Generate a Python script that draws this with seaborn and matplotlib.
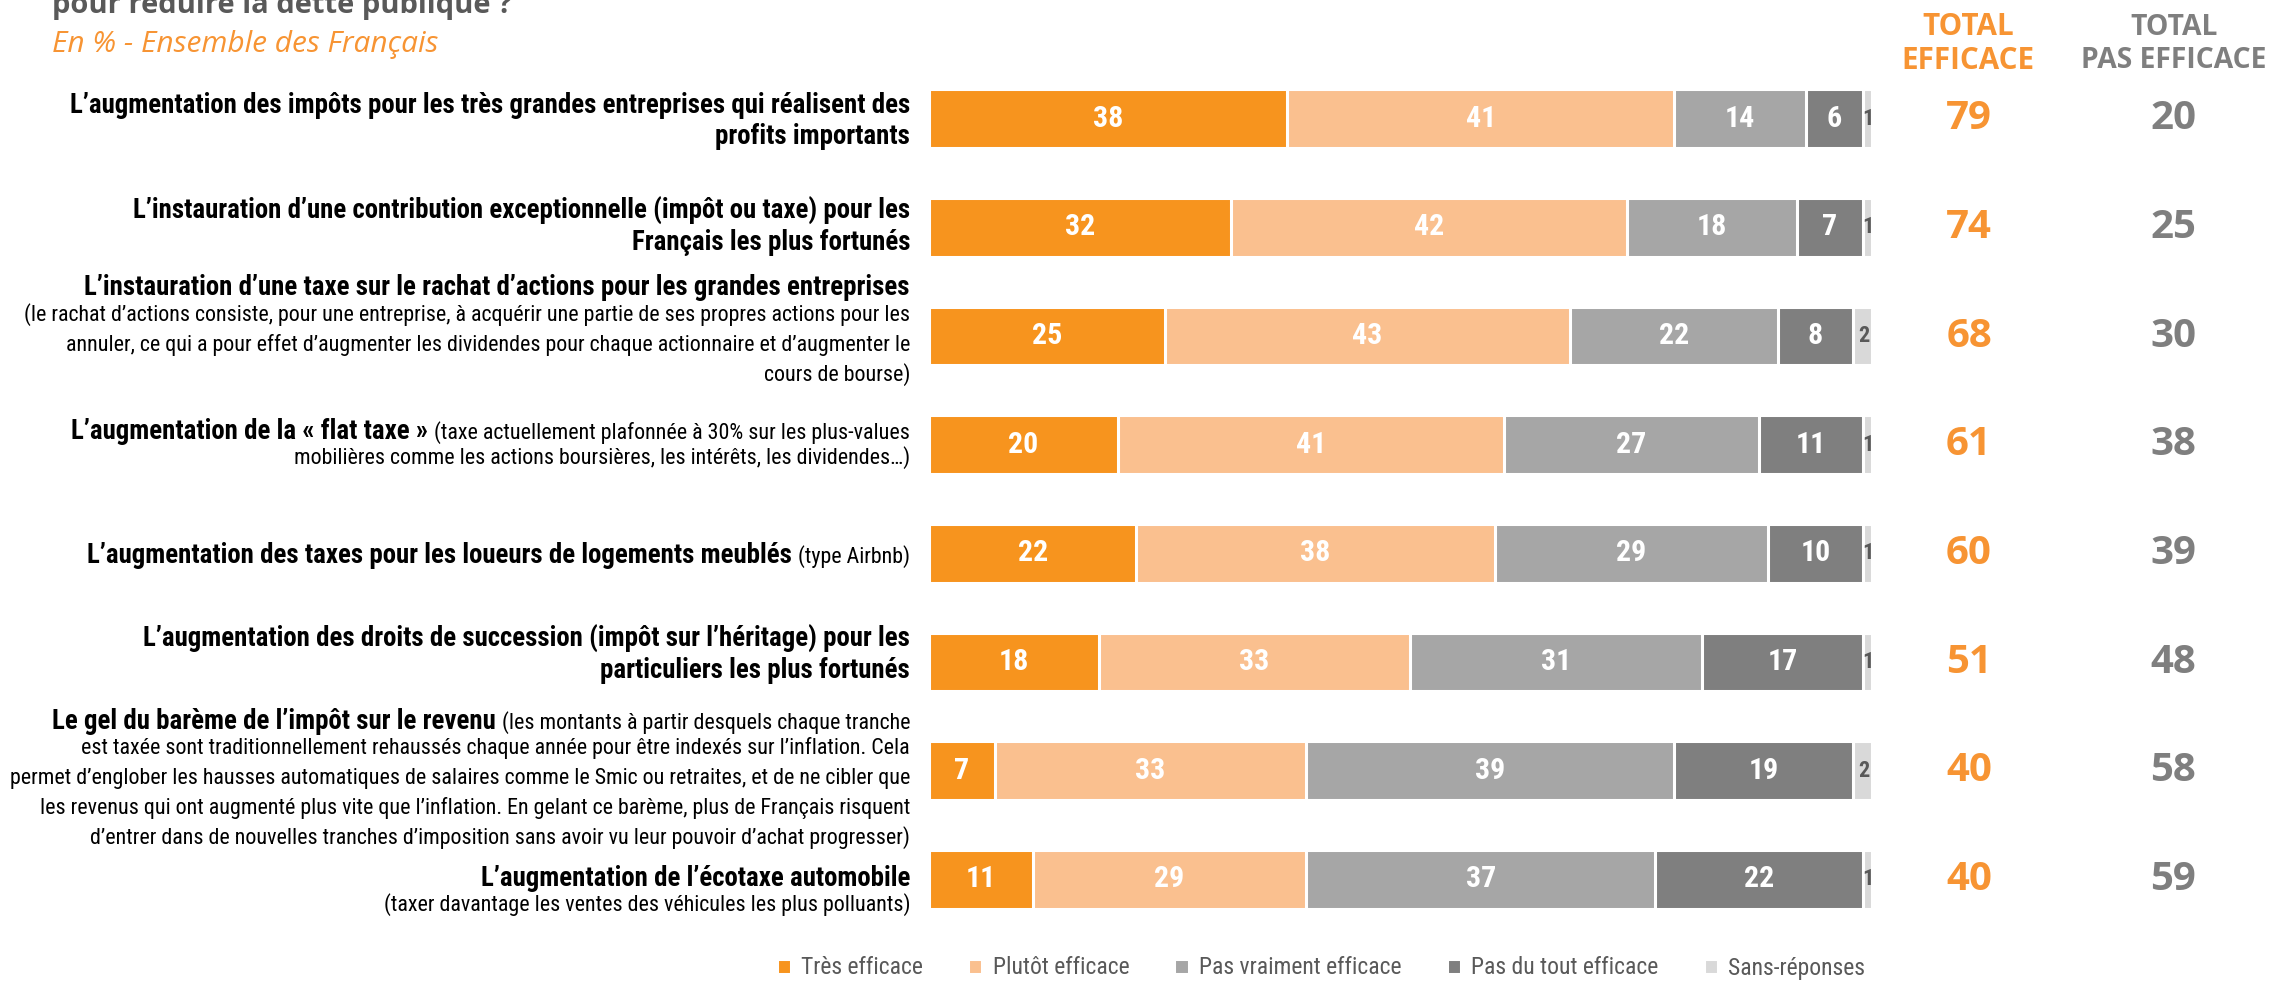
import matplotlib
matplotlib.use("Agg")
import matplotlib.pyplot as plt
import seaborn as sns
import numpy as np
import pandas as pd
from matplotlib import font_manager as fm

# ---------------- data ----------------
categories = ["impots_grandes_entreprises", "contribution_fortunes", "rachat_actions",
              "flat_taxe", "loueurs_meubles", "droits_succession", "gel_bareme", "ecotaxe"]
tres_efficace = [38, 32, 25, 20, 22, 18, 7, 11]
plutot_efficace = [41, 42, 43, 41, 38, 33, 33, 29]
pas_vraiment = [14, 18, 22, 27, 29, 31, 39, 37]
pas_du_tout = [6, 7, 8, 11, 10, 17, 19, 22]
sans_reponse = [1, 1, 2, 1, 1, 1, 2, 1]
total_efficace = [79, 74, 68, 61, 60, 51, 40, 40]
total_pas_efficace = [20, 25, 30, 38, 39, 48, 58, 59]
series_names = ["Très efficace", "Plutôt efficace", "Pas vraiment efficace",
                "Pas du tout efficace", "Sans-réponses"]

row_labels = [
    [[("L’augmentation des impôts pour les très grandes entreprises qui réalisent des", True)],
     [("profits importants", True)]],
    [[("L’instauration d’une contribution exceptionnelle (impôt ou taxe) pour les", True)],
     [("Français les plus fortunés", True)]],
    [[("L’instauration d’une taxe sur le rachat d’actions pour les grandes entreprises", True)],
     [("(le rachat d’actions consiste, pour une entreprise, à acquérir une partie de ses propres actions pour les", False)],
     [("annuler, ce qui a pour effet d’augmenter les dividendes pour chaque actionnaire et d’augmenter le", False)],
     [("cours de bourse)", False)]],
    [[("L’augmentation de la « flat taxe »", True), ("(taxe actuellement plafonnée à 30% sur les plus-values", False)],
     [("mobilières comme les actions boursières, les intérêts, les dividendes…)", False)]],
    [[("L’augmentation des taxes pour les loueurs de logements meublés", True), ("(type Airbnb)", False)]],
    [[("L’augmentation des droits de succession (impôt sur l’héritage) pour les", True)],
     [("particuliers les plus fortunés", True)]],
    [[("Le gel du barème de l’impôt sur le revenu", True), ("(les montants à partir desquels chaque tranche", False)],
     [("est taxée sont traditionnellement rehaussés chaque année pour être indexés sur l’inflation. Cela", False)],
     [("permet d’englober les hausses automatiques de salaires comme le Smic ou retraites, et de ne cibler que", False)],
     [("les revenus qui ont augmenté plus vite que l’inflation. En gelant ce barème, plus de Français risquent", False)],
     [("d’entrer dans de nouvelles tranches d’imposition sans avoir vu leur pouvoir d’achat progresser)", False)]],
    [[("L’augmentation de l’écotaxe automobile", True)],
     [("(taxer davantage les ventes des véhicules les plus polluants)", False)]],
]

title_text = "pour réduire la dette publique ?"
subtitle_text = "En % - Ensemble des Français"

# ---------------- style ----------------
colors = ["#F7941E", "#FAC08F", "#A6A6A6", "#7F7F7F", "#D9D9D9"]
ORANGE_TXT = "#F79433"
GREY_TXT = "#7F7F7F"
DARK_TXT = "#595959"


def pick(cands):
    for c in cands:
        try:
            fm.findfont(fm.FontProperties(family=c), fallback_to_default=False)
            return c
        except Exception:
            pass
    return "DejaVu Sans"


NARROW = pick(["Liberation Sans Narrow", "Roboto Condensed", "Liberation Sans", "DejaVu Sans"])
WIDE = pick(["Open Sans", "Noto Sans", "DejaVu Sans"])

sns.set_theme(style="white")
plt.rcParams["font.family"] = [NARROW, "DejaVu Sans"]

W, H = 2272, 982
fig = plt.figure(figsize=(W / 100, H / 100), dpi=100)

ax_left, ax_right = 929, 1872
ax_top, ax_bot = 64.5, 933.8
ax = fig.add_axes([ax_left / W, 1 - ax_bot / H, (ax_right - ax_left) / W, (ax_bot - ax_top) / H])

df = pd.DataFrame({"cat": categories, "s0": tres_efficace, "s1": plutot_efficace,
                   "s2": pas_vraiment, "s3": pas_du_tout, "s4": sans_reponse})
series_cols = ["s0", "s1", "s2", "s3", "s4"]
cum = df[series_cols].cumsum(axis=1)

handles = {}
for k in range(4, -1, -1):
    sns.barplot(x=cum[series_cols[k]], y=df["cat"], orient="h", color=colors[k],
                saturation=1, width=0.54, edgecolor="white", linewidth=2.2, ax=ax,
                order=categories)
    handles[k] = ax.containers[-1]

ax.set_xlim(0, 100)
ax.set_ylim(len(categories) - 0.5, -0.5)
ax.set_axis_off()

# value labels
for i in range(len(categories)):
    for k in range(5):
        v = df[series_cols[k]].iloc[i]
        xc = cum[series_cols[k]].iloc[i] - v / 2
        if k < 4:
            ax.text(xc, i, f"{v}", ha="center", va="center", color="white",
                    fontsize=21.5, fontweight="bold")
        else:
            ax.text(xc + 0.1, i, f"{v}", ha="center", va="center", color=DARK_TXT,
                    fontsize=16, fontweight="bold")

# totals
for i in range(len(categories)):
    yd = ax.transData.transform((0, i))[1] / H
    fig.text(1969 / W, yd, f"{total_efficace[i]}", ha="center", va="center",
             color=ORANGE_TXT, fontsize=29, fontweight="bold", family=WIDE)
    fig.text(2173 / W, yd, f"{total_pas_efficace[i]}", ha="center", va="center",
             color=GREY_TXT, fontsize=29, fontweight="bold", family=WIDE)

fig.text(1968 / W, 1 - 44 / H, "TOTAL\nEFFICACE", ha="center", va="center",
         color=ORANGE_TXT, fontsize=21.3, fontweight="bold", family=WIDE, linespacing=1.18)
fig.text(2174 / W, 1 - 44 / H, "TOTAL\nPAS EFFICACE", ha="center", va="center",
         color=GREY_TXT, fontsize=20.3, fontweight="bold", family=WIDE, linespacing=1.2)

# title / subtitle
fig.text(52 / W, 1 - 13 / H, title_text, ha="left", va="baseline", color=DARK_TXT,
         fontsize=21, fontweight="bold", family=WIDE)
fig.text(52 / W, 1 - 52 / H, subtitle_text, ha="left", va="baseline", color=ORANGE_TXT,
         fontsize=21.5, style="italic", family=WIDE)

# ---------------- left labels ----------------
fig.canvas.draw()
renderer = fig.canvas.get_renderer()


def text_width(s, size, bold):
    t = fig.text(0, 0, s, fontsize=size, fontweight="bold" if bold else "normal")
    w = t.get_window_extent(renderer).width
    t.remove()
    return w


# fit font sizes to measured widths in the reference
bold_size = 17.0 * 838 / text_width(row_labels[0][0][0][0], 17.0, True)
reg_size = 14.0 * 908 / text_width(row_labels[6][2][0][0], 14.0, False)

label_right = 910
label_offsets = [0, -3, -7, -2, 0, -9, 7, 10]
PITCH_BB, PITCH_BR, PITCH_RR = 31, 27, 30

for i, lines in enumerate(row_labels):
    kinds = [any(b for _, b in ln) for ln in lines]
    ys = [0.0]
    for j in range(1, len(lines)):
        if kinds[j - 1] and kinds[j]:
            p = PITCH_BB
        elif kinds[j - 1] and not kinds[j]:
            p = PITCH_BR
        else:
            p = PITCH_RR
        ys.append(ys[-1] + p)
    span = ys[-1]
    yc_disp = ax.transData.transform((0, i))[1]
    row_center_top = H - yc_disp
    for j, ln in enumerate(lines):
        center = row_center_top - span / 2 + ys[j] + label_offsets[i]
        size_main = bold_size if kinds[j] else reg_size
        baseline = center + 0.36 * size_main * 100 / 72
        x = label_right
        for seg_idx in range(len(ln) - 1, -1, -1):
            s, b = ln[seg_idx]
            size = bold_size if b else reg_size
            t = fig.text(x / W, 1 - baseline / H, s, ha="right", va="baseline",
                         fontsize=size, fontweight="bold" if b else "normal", color="black")
            w = t.get_window_extent(renderer).width
            x -= w + (0.28 * reg_size * 100 / 72 if seg_idx > 0 else 0)

# ---------------- legend ----------------
leg = fig.legend(handles=[handles[k] for k in range(5)], labels=series_names,
                 loc="center", bbox_to_anchor=(1321 / W, 14 / H), ncol=5, frameon=False,
                 fontsize=17, handlelength=0.6, handleheight=0.6, handletextpad=0.45,
                 columnspacing=1.9, labelcolor=DARK_TXT)

fig.savefig("out.png", dpi=100)
